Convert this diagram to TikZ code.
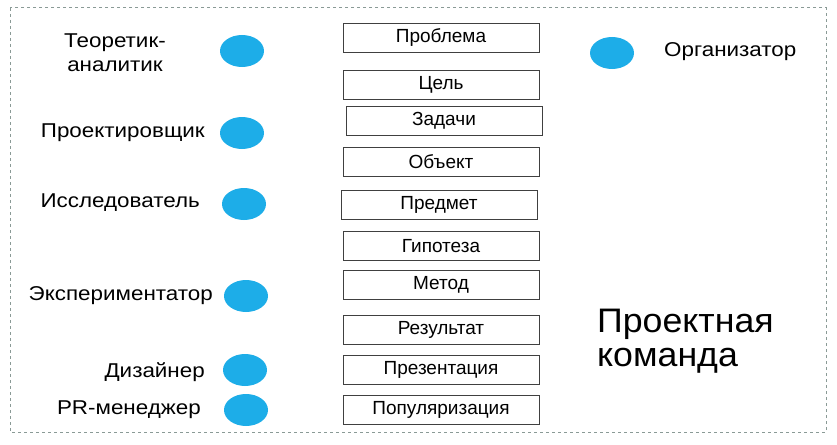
\documentclass[tikz,border=0pt]{standalone}
\usepackage{fontspec}
\setmainfont{Liberation Sans}
\usetikzlibrary{positioning}
\definecolor{dotblue}{HTML}{1DADE8}
\definecolor{frame}{HTML}{8A9A96}
\begin{document}
\begin{tikzpicture}[x=1pt,y=-1pt,
  stage/.style={draw=black!75, line width=0.8pt, minimum width=196pt, minimum height=29pt, inner sep=0pt, font=\fontsize{19}{22}\selectfont},
  role/.style={font=\fontsize{20}{24}\selectfont, inner sep=0pt, align=center, xscale=1.12}]
\useasboundingbox (0,0) rectangle (837,444);
% Frame
\draw[frame, dashed, line width=1pt] (10,8) rectangle (826,432);
% Stages
\foreach \n/\x/\y/\t in {p1/441/38/Проблема, p2/441/85/Цель, p3/444/121/Задачи, p4/441/162/Объект,
  p5/439/205/Предмет, p6/441/246/Гипотеза, p7/441/285/Метод, p8/441/330/Результат,
  p9/441/370/Презентация, p10/441/410/Популяризация} {
  \node[stage] (\n) at (\x,\y) {\t};
}
% Team members
\foreach \n/\x/\y in {m1/242/51, m2/242/133, m3/244/204, m4/246/296, m5/245/370, m6/246/410, m7/612/53} {
  \path[fill=dotblue] (\x,\y) ellipse (22 and 16);
  \coordinate (\n) at (\x,\y);
}
% Roles
\node[role] (r1) at (115,53) {Теоретик-\\аналитик};
\node[role, anchor=east] (r2) at (205,133) {Проектировщик};
\node[role, anchor=east] (r3) at (200,203) {Исследователь};
\node[role, anchor=east] (r4) at (213,296) {Экспериментатор};
\node[role, anchor=east] (r5) at (205,372) {Дизайнер};
\node[role, anchor=east] (r6) at (201,410) {PR-менеджер};
\node[role, anchor=west] (r7) at (664,52) {Организатор};
% Label
\node[font=\fontsize{34}{34}\selectfont, align=left, anchor=west, inner sep=0pt, xscale=1.05] (team) at (597,341) {Проектная\\команда};
\end{tikzpicture}
\end{document}
